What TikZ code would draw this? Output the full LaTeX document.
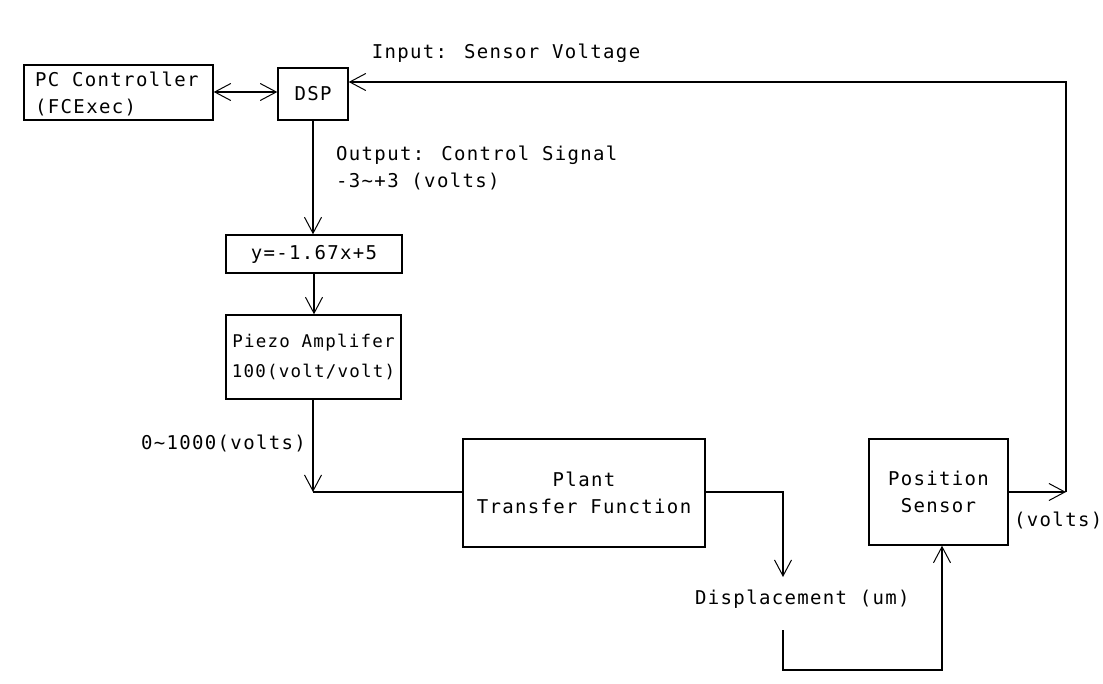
\documentclass[tikz,border=0pt]{standalone}
\usepackage{fontspec}
\newfontfamily\diagfont[LetterSpace=7]{DejaVu Sans Mono}
\usetikzlibrary{arrows.meta}
\begin{document}
\begin{tikzpicture}[x=1pt,y=-1pt,
  every node/.style={font=\diagfont\fontsize{19}{27}\selectfont, inner sep=0pt},
  blk/.style={draw, line width=1.4pt, align=center},
  wire/.style={line width=1.4pt},
  arr/.style={wire, -{Straight Barb[length=16pt,width=17pt,line width=1pt]}},
  darr/.style={wire, {Straight Barb[length=16pt,width=17pt,line width=1pt]}-{Straight Barb[length=16pt,width=17pt,line width=1pt]}},
  lbl/.style={align=left}]
\useasboundingbox (0,0) rectangle (1103,684);
\fill[white] (0,0) rectangle (1103,684);

% blocks
\node[blk, minimum width=189pt, minimum height=55pt] (pc) at (118.5,92.5) {};
\node[lbl, anchor=west] (pctxt) at (35,93.5) {PC Controller\\(FCExec)};
\node[blk, minimum width=70pt, minimum height=52pt] (dsp) at (313,94) {DSP};
\node[blk, minimum width=176pt, minimum height=38pt] (eq) at (314,254) {y=-1.67x+5};
\node[blk, minimum width=175pt, minimum height=84pt, font=\diagfont\fontsize{17.5}{30}\selectfont] (amp) at (313.5,357) {Piezo Amplifer\\100(volt/volt)};
\node[blk, minimum width=242pt, minimum height=108pt] (plant) at (584,493) {Plant\\Transfer Function};
\node[blk, minimum width=139pt, minimum height=106pt] (sensor) at (938.5,492) {Position\\Sensor};

% labels
\node (lin) at (506,53) {Input: Sensor Voltage};
\node[lbl, anchor=west] (lout) at (336,167.5) {Output: Control Signal\\-3\textasciitilde+3 (volts)};
\node[anchor=east] (lamp) at (306,443) {0\textasciitilde1000(volts)};
\node[anchor=west] (lvolt) at (1014,520) {(volts)};
\node[anchor=west] (ldisp) at (695,599) {Displacement (um)};

% coordinates
\coordinate (fb1) at (1066,492);
\coordinate (fb2) at (1066,82);
\coordinate (j1) at (313,492);
\coordinate (d1) at (783,577);
\coordinate (d2) at (783,630);
\coordinate (d3) at (783,670);

% connectors
\draw[darr] (pc.east |- 0,92) -- (dsp.west |- 0,92);
\draw[arr] (sensor.east |- fb1) -- (fb1);
\draw[arr] (fb1) -- (fb2) -- (fb2 -| dsp.east);
\draw[arr] (dsp.south) -- (eq.north -| dsp.south);
\draw[arr] (eq.south) -- (amp.north -| eq.south);
\draw[arr] (amp.south -| j1) -- (j1);
\draw[wire] (j1) -- (plant.west |- j1);
\draw[arr] (plant.east |- j1) -- (d1 |- j1) -- (d1);
\draw[arr] (d2) -- (d3) -- (d3 -| 942,0) -- (sensor.south -| 942,0);
\end{tikzpicture}
\end{document}
